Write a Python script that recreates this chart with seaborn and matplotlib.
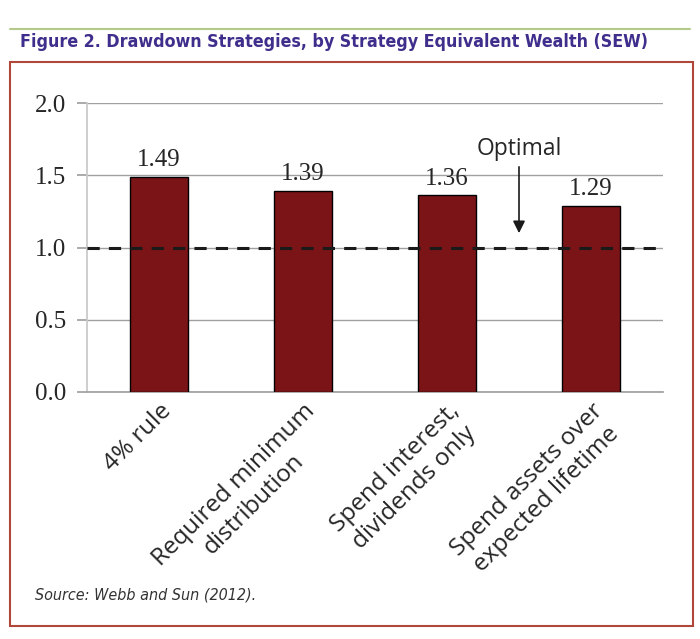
import matplotlib
matplotlib.use('Agg')
import matplotlib.pyplot as plt
import matplotlib.patches as patches
from matplotlib.lines import Line2D
import seaborn as sns
import pandas as pd

# 数据
strategies = ['4% rule', 'Required minimum\ndistribution',
              'Spend interest,\ndividends only', 'Spend assets over\nexpected lifetime']
sew = [1.49, 1.39, 1.36, 1.29]
value_labels = ['1.49', '1.39', '1.36', '1.29']
optimal = 1.0
yticks = [0.0, 0.5, 1.0, 1.5, 2.0]

df = pd.DataFrame({'strategy': strategies, 'sew': sew})

sns.set_theme(style='white')
plt.rcParams['font.family'] = ['DejaVu Sans']

fig = plt.figure(figsize=(7.0, 6.39), dpi=100)

# 外框和顶部线
fig.add_artist(Line2D([10/700, 690/700], [1-29/639, 1-29/639], color='#b5c98a', lw=1.5))
fig.add_artist(patches.Rectangle((10/700, 1-626/639), 683/700, 564/639,
                                 fill=False, edgecolor='#b0483a', lw=1.5))
title = fig.text(20/700, 1-42/639, 'Figure 2. Drawdown Strategies, by Strategy Equivalent Wealth (SEW)',
                 family=['DejaVu Sans'], fontweight='bold', fontstretch='condensed',
                 fontsize=16, color='#3f2e8c', va='center', ha='left')
# 标题宽度压到约 630 像素
fig.canvas.draw()
w = title.get_window_extent().width
title.set_fontsize(16 * 630 / w)

ax = fig.add_axes([87/700, 1-392/639, 576/700, 289/639])
sns.barplot(data=df, x='strategy', y='sew', color='#7b1416', edgecolor='black',
            linewidth=1.0, width=0.4, saturation=1, ax=ax, zorder=3)
ax.set_ylim(0, 2.0)
ax.set_xlim(-0.5, 3.5)
ax.set_yticks(yticks)
ax.set_yticklabels([f'{v:.1f}' for v in yticks], family=['Liberation Serif'], fontsize=18)
ax.yaxis.grid(True, color='#a0a0a0', lw=1.0, zorder=0)
ax.tick_params(axis='y', length=7, color='#a0a0a0', pad=8, left=True)
ax.tick_params(axis='x', length=0, pad=5)
ax.set_xlabel('')
ax.set_ylabel('')
for s in ['top', 'right']:
    ax.spines[s].set_visible(False)
ax.spines['left'].set_color('#c8c8c8')
ax.spines['bottom'].set_color('#a0a0a0')

ax.set_xticks(range(len(strategies)))
ax.set_xticklabels(strategies, rotation=45, ha='right', rotation_mode='anchor',
                   multialignment='center', family=['Open Sans'], fontsize=17.5)

for i, (v, lab) in enumerate(zip(sew, value_labels)):
    ax.text(i, v + 0.04, lab, ha='center', va='bottom', family=['Liberation Serif'],
            fontsize=18, zorder=4)

ax.axhline(optimal, color='#1a1a1a', ls=(0, (4, 3)), lw=2.2, zorder=5)
ax.annotate('Optimal', xy=(2.5, 1.08), xytext=(2.5, 1.6), ha='center', va='bottom',
            family=['Open Sans'], fontsize=16.5,
            arrowprops=dict(arrowstyle='-|>', color='#1a1a1a', lw=1.2, mutation_scale=18))

fig.text(35/700, 1-595/639, 'Source: Webb and Sun (2012).',
         family=['DejaVu Sans'], fontstretch='condensed', style='italic',
         fontsize=11.5, color='#333333', va='center')

fig.savefig('out.png', dpi=100)
